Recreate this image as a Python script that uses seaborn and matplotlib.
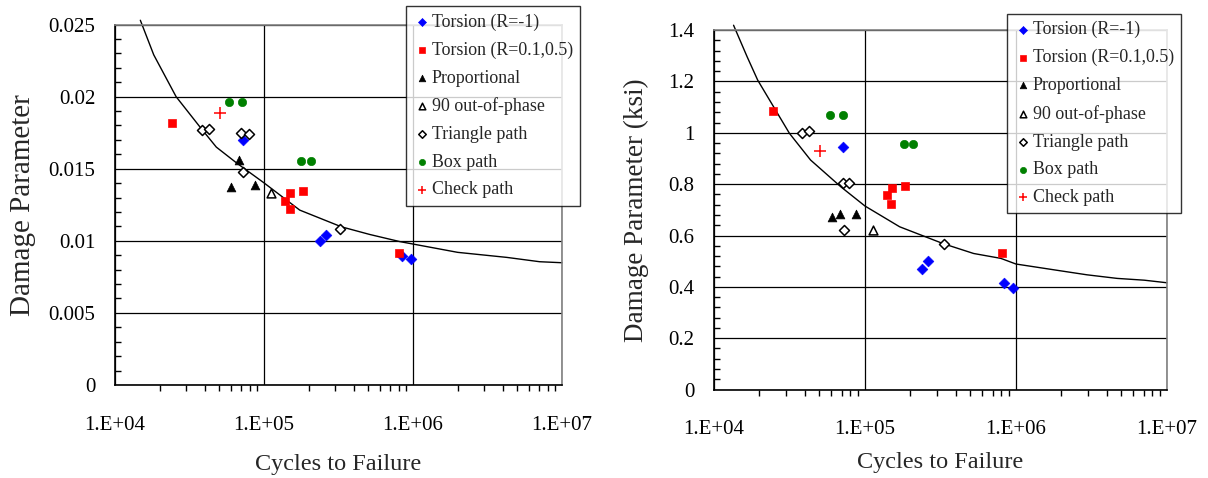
import matplotlib
matplotlib.use('Agg')
import matplotlib.pyplot as plt
import seaborn as sns
import numpy as np
from matplotlib.ticker import LogLocator, NullFormatter, MultipleLocator

sns.set_theme(style='white')
plt.rcParams['font.family'] = ['Liberation Serif', 'DejaVu Serif']

# ---- left panel: damage parameter (strain based) ----
left_torsion_n = [72000, 848000, 966000, 237000, 262000]
left_torsion_v = [0.0170, 0.00894, 0.00871, 0.00997, 0.01037]
left_torsion_r_n = [24300, 149000, 138300, 149000, 182400, 805000]
left_torsion_r_v = [0.0182, 0.01332, 0.01274, 0.01224, 0.01348, 0.00917]
left_prop_n = [68400, 59900, 87400]
left_prop_v = [0.01558, 0.01376, 0.01385]
left_oop_n = [111500]
left_oop_v = [0.01334]
left_tri_n = [38300, 42800, 70600, 78900, 72300, 325000]
left_tri_v = [0.01768, 0.01778, 0.01750, 0.01740, 0.01475, 0.01085]
left_box_n = [58300, 71300, 177800, 206400]
left_box_v = [0.01962, 0.01962, 0.01556, 0.01556]
left_check_n = [50500]
left_check_v = [0.01888]
left_curve_logn = [4.17, 4.26, 4.41, 4.57, 4.68, 4.82, 5.00, 5.24, 5.52,
                   5.71, 5.91, 6.30, 6.63, 6.85, 7.00]
left_curve_v = [0.0253, 0.0229, 0.0200, 0.0179, 0.0165, 0.01537, 0.01402,
                0.01213, 0.01097, 0.01044, 0.00995, 0.0092, 0.00885,
                0.00855, 0.00848]

# ---- right panel: damage parameter (ksi) ----
right_torsion_n = [72000, 240000, 263000, 840000, 953000]
right_torsion_v = [0.944, 0.470, 0.499, 0.416, 0.397]
right_torsion_r_n = [24700, 141000, 151400, 149000, 185300, 807000]
right_torsion_r_v = [1.086, 0.757, 0.786, 0.722, 0.791, 0.530]
right_prop_n = [60300, 68400, 87300]
right_prop_v = [0.672, 0.682, 0.682]
right_oop_n = [112700]
right_oop_v = [0.622]
right_tri_n = [38300, 42800, 72000, 78900, 73100, 332500]
right_tri_v = [0.999, 1.009, 0.805, 0.805, 0.620, 0.568]
right_box_n = [58700, 71300, 181600, 209200]
right_box_v = [1.070, 1.070, 0.956, 0.956]
right_check_n = [50100]
right_check_v = [0.930]
right_curve_logn = [4.13, 4.22, 4.29, 4.50, 4.64, 4.84, 5.00, 5.23, 5.52,
                    5.72, 5.90, 6.00, 6.29, 6.47, 6.67, 6.85, 7.00]
right_curve_v = [1.419, 1.296, 1.205, 0.998, 0.894, 0.790, 0.715, 0.634,
                 0.568, 0.530, 0.511, 0.489, 0.463, 0.447, 0.433, 0.426,
                 0.416]

series_names = ['Torsion (R=-1)', 'Torsion (R=0.1,0.5)', 'Proportional',
                '90 out-of-phase', 'Triangle path', 'Box path', 'Check path']
x_tick_labels = ['1.E+04', '1.E+05', '1.E+06', '1.E+07']
left_y_ticks = [0, 0.005, 0.01, 0.015, 0.02, 0.025]
left_y_labels = ['0', '0.005', '0.01', '0.015', '0.02', '0.025']
right_y_ticks = [0, 0.2, 0.4, 0.6, 0.8, 1.0, 1.2, 1.4]
right_y_labels = ['0', '0.2', '0.4', '0.6', '0.8', '1', '1.2', '1.4']

styles = [
    dict(marker='D', color='#0000ff', edgecolor='#0000ff', s=30),
    dict(marker='s', color='#ff0000', edgecolor='#ff0000', s=36),
    dict(marker='^', color='black', edgecolor='black', s=40),
    dict(marker='^', color='white', edgecolor='black', s=40, linewidth=1.1),
    dict(marker='D', color='white', edgecolor='black', s=26, linewidth=1.1),
    dict(marker='o', color='#008000', edgecolor='#008000', s=36),
    dict(marker='+', color='#ff0000', s=70, linewidth=1.1),
]


def draw_panel(ax, data, curve_logn, curve_v, yticks, ylabels, ymax, minor,
               ylabel, ylabel_size, ylabel_pad, xlabel_pad, legend_anchor):
    sns.lineplot(x=[10 ** v for v in curve_logn], y=curve_v, ax=ax,
                 color='black', lw=1, sort=False, estimator=None,
                 clip_on=False, zorder=2)
    for (n, v), name, st in zip(data, series_names, styles):
        sns.scatterplot(x=n, y=v, ax=ax, label=name, zorder=3, **st)

    ax.set_xscale('log')
    ax.set_xlim(1e4, 1e7)
    ax.set_ylim(0, ymax)
    ax.set_xticks([1e4, 1e5, 1e6, 1e7])
    ax.set_xticklabels(x_tick_labels)
    ax.xaxis.set_minor_locator(LogLocator(base=10, subs=np.arange(2, 10)))
    ax.xaxis.set_minor_formatter(NullFormatter())
    ax.set_yticks(yticks)
    ax.set_yticklabels(ylabels)
    ax.yaxis.set_minor_locator(MultipleLocator(minor))

    ax.grid(True, which='major', color='black', lw=0.9)
    ax.tick_params(axis='both', which='major', direction='inout', length=8,
                   width=1, color='black', labelsize=15, colors='black')
    ax.tick_params(axis='x', which='major', pad=18)
    ax.tick_params(axis='y', which='major', pad=10)
    ax.tick_params(axis='x', which='minor', bottom=True, direction='out',
                   length=4, width=1, color='black')
    ax.tick_params(axis='y', which='minor', left=True, direction='in',
                   length=4, width=1, color='black')
    for side in ['top', 'right']:
        ax.spines[side].set_color('#808080')
    for side in ['left', 'bottom']:
        ax.spines[side].set_color('black')
    for sp in ax.spines.values():
        sp.set_linewidth(1.2)

    ax.set_xlabel('Cycles to Failure', fontsize=17.5, labelpad=xlabel_pad)
    ax.set_ylabel(ylabel, fontsize=ylabel_size, labelpad=ylabel_pad)

    leg = ax.legend(loc='upper left', bbox_to_anchor=legend_anchor,
                    bbox_transform=ax.figure.transFigure, frameon=True,
                    fancybox=False, edgecolor='black', fontsize=12.9,
                    handletextpad=0.05, handlelength=1.0, labelspacing=0.6,
                    borderpad=0.4, borderaxespad=0, markerscale=0.75)
    leg.get_frame().set_linewidth(1)
    leg.set_zorder(5)


fig = plt.figure(figsize=(12.08, 4.78), dpi=100)
ax1 = fig.add_axes([0.0952, 0.1946, 0.370, 0.754])
ax2 = fig.add_axes([0.591, 0.185, 0.375, 0.752])

left_data = [(left_torsion_n, left_torsion_v), (left_torsion_r_n, left_torsion_r_v),
             (left_prop_n, left_prop_v), (left_oop_n, left_oop_v),
             (left_tri_n, left_tri_v), (left_box_n, left_box_v),
             (left_check_n, left_check_v)]
right_data = [(right_torsion_n, right_torsion_v), (right_torsion_r_n, right_torsion_r_v),
              (right_prop_n, right_prop_v), (right_oop_n, right_oop_v),
              (right_tri_n, right_tri_v), (right_box_n, right_box_v),
              (right_check_n, right_check_v)]

draw_panel(ax1, left_data, left_curve_logn, left_curve_v, left_y_ticks,
           left_y_labels, 0.025, 0.001, 'Damage Parameter', 21, 9, 14,
           (0.336, 0.987))
draw_panel(ax2, right_data, right_curve_logn, right_curve_v, right_y_ticks,
           right_y_labels, 1.4, 0.04, 'Damage Parameter (ksi)', 19.5, 14, 9,
           (0.8336, 0.971))

fig.savefig('out.png', dpi=100)
